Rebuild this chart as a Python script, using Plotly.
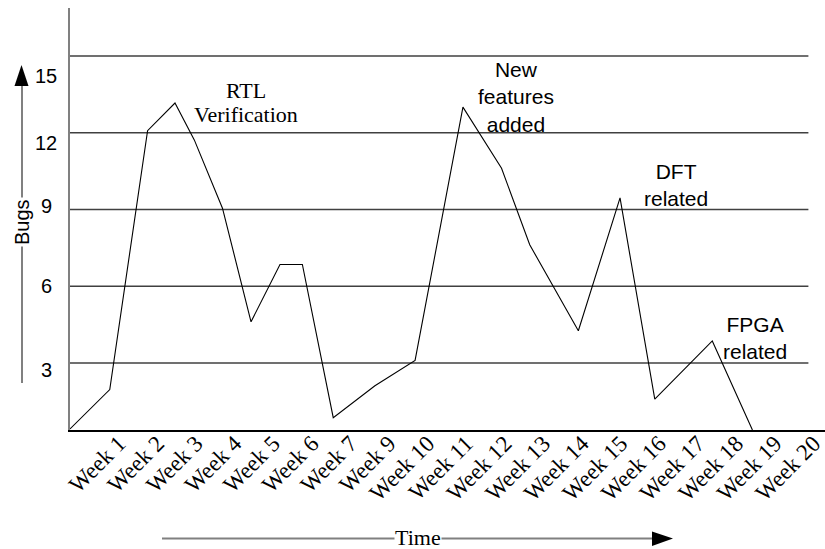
import plotly.graph_objects as go

# ---- data ----
week_labels = ["Week 1", "Week 2", "Week 3", "Week 4", "Week 5", "Week 6", "Week 7",
               "Week 9", "Week 10", "Week 11", "Week 12", "Week 13", "Week 14", "Week 15",
               "Week 16", "Week 17", "Week 18", "Week 19", "Week 20"]
# position along the time axis, in units of week-label slots
time_pos = [-1.5, -0.47, 0.51, 1.22, 1.72, 2.45, 3.19, 3.94, 4.52, 5.32,
            6.40, 7.44, 8.68, 9.68, 10.41, 11.67, 12.75, 13.65, 15.14, 16.18]
bugs = [0.42, 1.96, 12.08, 13.16, 11.72, 9.05, 4.61, 6.85, 6.85, 0.86,
        2.11, 3.10, 13.0, 10.61, 7.62, 4.26, 9.45, 1.59, 3.86, 0.38]
y_ticks = [15, 12, 9, 6, 3]
y_tick_text = ["15", "12", "9", "6", "3"]
y_tick_shift = [-20, -10, 3, 0, -7]

note_lines = [
    ("RTL", 3.06, 13.67, "Liberation Serif", 22),
    ("Verification", 3.06, 12.70, "Liberation Serif", 22),
    ("New<br>features<br>added", 10.05, 13.4, "Liberation Sans", 21),
    ("DFT<br>related", 14.21, 9.96, "Liberation Sans", 21),
    ("FPGA<br>related", 16.24, 3.98, "Liberation Sans", 21),
]

# the page body margin is removed (see post_script), so the figure fills the window
OFF = 0
W, H = 825, 549
ML, MR, MT, MB = 70, 0, 8, 119
PW, PH = W - ML - MR, H - MT - MB
X_RANGE = [-1.5, 18.06]
Y_RANGE = [0.38, 16.875]


def px_x(p):
    return (p - OFF - ML) / PW


def px_y(p):
    return (H - MB - (p - OFF)) / PH


fig = go.Figure()
fig.add_trace(go.Scatter(x=time_pos, y=bugs, mode="lines",
                         line=dict(color="black", width=1.1),
                         cliponaxis=False, hoverinfo="skip", showlegend=False))

shapes = []
for v in y_ticks:
    shapes.append(dict(type="line", xref="x", yref="y", x0=X_RANGE[0], x1=17.63,
                       y0=v, y1=v, line=dict(color="#404040", width=1.5), layer="below"))

# Bugs arrow (vertical)
shapes.append(dict(type="line", xref="paper", yref="paper",
                   x0=px_x(22), x1=px_x(22), y0=px_y(383), y1=px_y(84),
                   line=dict(color="#808080", width=2)))
shapes.append(dict(type="path", xref="paper", yref="paper",
                   path=f"M {px_x(21.5)},{px_y(65)} L {px_x(14.5)},{px_y(86)} L {px_x(28.5)},{px_y(86)} Z",
                   fillcolor="black", line=dict(color="black", width=0)))
# Time arrow (horizontal)
shapes.append(dict(type="line", xref="paper", yref="paper",
                   x0=px_x(162), x1=px_x(653), y0=px_y(538.5), y1=px_y(538.5),
                   line=dict(color="#808080", width=2)))
shapes.append(dict(type="path", xref="paper", yref="paper",
                   path=f"M {px_x(673)},{px_y(538.5)} L {px_x(652)},{px_y(531.5)} L {px_x(652)},{px_y(546)} Z",
                   fillcolor="black", line=dict(color="black", width=0)))

annotations = []
for v, t, s in zip(y_ticks, y_tick_text, y_tick_shift):
    annotations.append(dict(text=t, xref="paper", yref="y", x=0, y=v, xshift=-24, yshift=s,
                            xanchor="center", yanchor="middle", showarrow=False,
                            font=dict(family="Liberation Sans", size=20, color="black")))
for text, x, y, fam, fs in note_lines:
    annotations.append(dict(text=text, xref="x", yref="y", x=x, y=y, showarrow=False,
                            xanchor="center", yanchor="middle", align="center",
                            font=dict(family=fam, size=fs, color="black")))
annotations.append(dict(text="Bugs", xref="paper", yref="paper", x=px_x(22), y=px_y(222),
                        textangle=-90, showarrow=False, bgcolor="white", borderpad=1,
                        xanchor="center", yanchor="middle",
                        font=dict(family="Liberation Sans", size=20, color="black")))
annotations.append(dict(text="Time", xref="paper", yref="paper", x=px_x(418), y=px_y(537),
                        showarrow=False, bgcolor="white", borderpad=0,
                        xanchor="center", yanchor="middle",
                        font=dict(family="Liberation Serif", size=22, color="black")))

fig.update_layout(
    width=W, height=H,
    margin=dict(l=ML, r=MR, t=MT, b=MB, pad=0, autoexpand=False),
    paper_bgcolor="white", plot_bgcolor="white",
    shapes=shapes, annotations=annotations,
    xaxis=dict(range=X_RANGE, tickmode="array", tickvals=list(range(len(week_labels))),
               ticktext=week_labels, tickangle=-45, showgrid=False, zeroline=False,
               showline=True, linecolor="black", linewidth=2, ticks="", automargin=False,
               tickfont=dict(family="Liberation Serif", size=23, color="black"),
               ticklabelstandoff=-11, ticklabelshift=-9, ticklabeloverflow="allow"),
    yaxis=dict(range=Y_RANGE, showgrid=False, zeroline=False, showticklabels=False,
               automargin=False,
               showline=True, linecolor="#808080", linewidth=2, ticks=""),
)
fig.write_html("out.html", config={"displayModeBar": False},
               post_script="document.body.style.margin='0px';document.body.style.overflow='hidden';")
